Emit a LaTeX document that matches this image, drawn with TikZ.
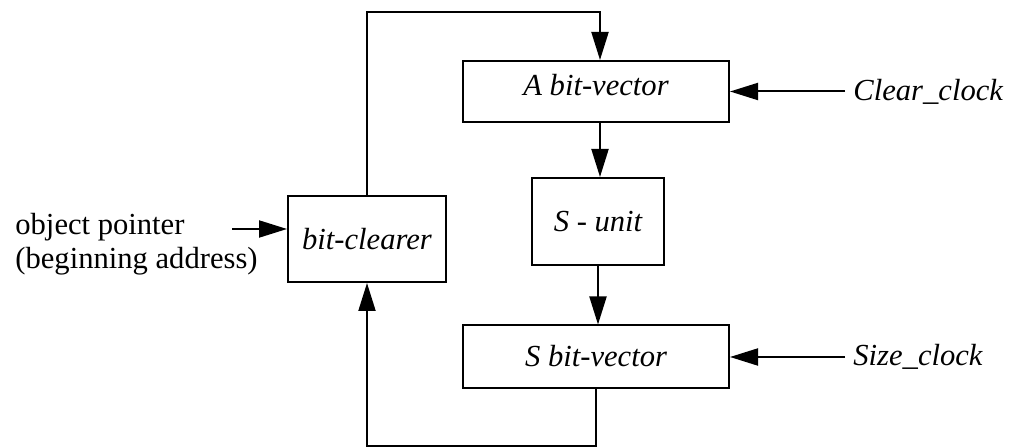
\documentclass[tikz,border=0pt]{standalone}
\usepackage{fontspec}
\setmainfont{Liberation Serif}
\usetikzlibrary{arrows.meta}

\tikzset{
  blk/.style={draw, line width=1pt, inner sep=0pt, font=\itshape},
  arr/.style={line width=1pt, -{Triangle[length=14pt,width=8.5pt]}},
  clk/.style={anchor=west, inner sep=4pt, font=\itshape},
}

\begin{document}
\begin{tikzpicture}[x=0.5pt, y=-0.5pt]
  \fontsize{15.3}{17}\selectfont
  \useasboundingbox (0,0) rectangle (1012,448);

  % blocks
  \node[blk, minimum width=133pt, minimum height=30.5pt, text depth=7pt] (avec) at (596,91.5) {A bit-vector};
  \node[blk, minimum width=66pt,  minimum height=43.5pt] (sunit) at (598,221.5) {S - unit};
  \node[blk, minimum width=133pt, minimum height=31.5pt, text depth=1.5pt] (svec) at (596,357) {S bit-vector};
  \node[blk, minimum width=79pt,  minimum height=43pt]   (bclr) at (367,239) {bit-clearer};

  % clock inputs
  \node[clk] (cclk) at (845,91.5) {Clear\_clock};
  \node[clk] (sclk) at (845,357) {Size\_clock};
  \draw[arr] (cclk.west) -- (avec.east);
  \draw[arr] (sclk.west) -- (svec.east);

  % object pointer input
  \node[anchor=west, inner sep=0pt, align=left] (optr) at (15,244)
    {object pointer\\(beginning address)};
  \coordinate (opin) at (232,229);
  \draw[arr] (opin) -- (opin -| bclr.west);

  % main data path
  \coordinate (col) at (600,0);
  \draw[arr] (avec.south -| col) -- (sunit.north -| col);
  \draw[arr] (sunit.south) -- (svec.north -| sunit.south);

  % feedback loops
  \coordinate (topc) at (480,12);
  \coordinate (botc) at (480,446);
  \draw[arr] (bclr.north) |- (topc) -| (avec.north -| col);
  \draw[arr] (svec.south) |- (botc) -| (bclr.south);
\end{tikzpicture}
\end{document}
